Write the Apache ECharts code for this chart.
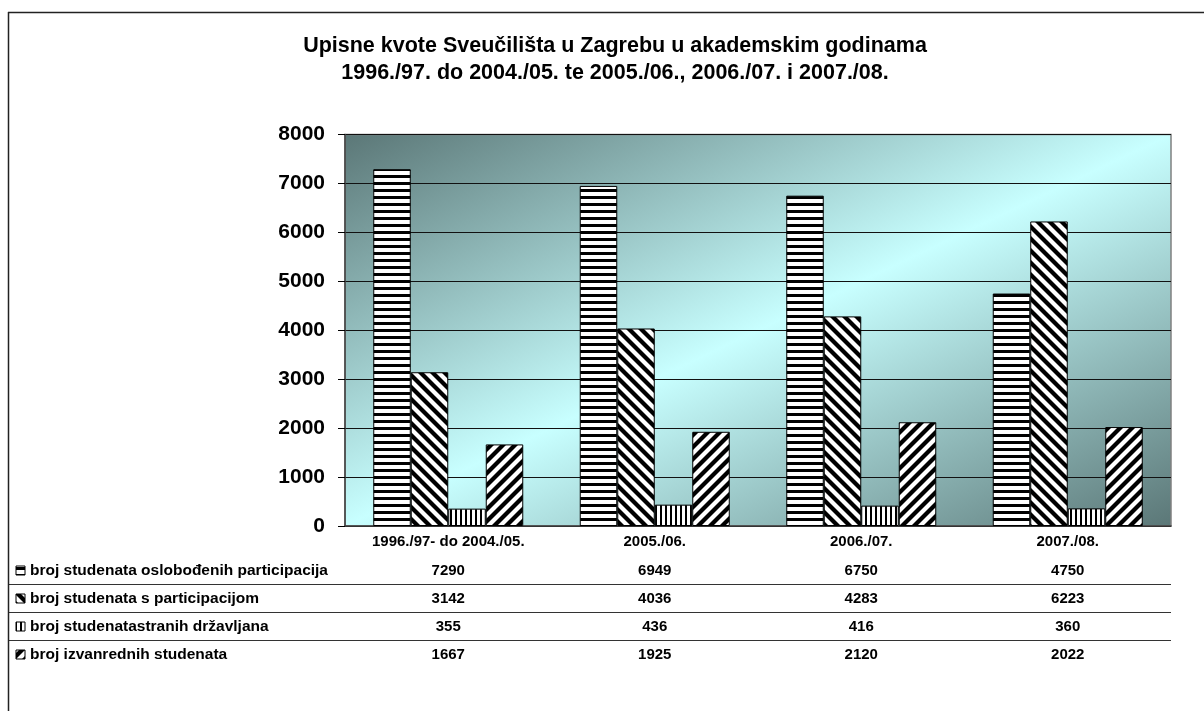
<!DOCTYPE html>
<html><head><meta charset="utf-8">
<script src="https://cdn.jsdelivr.net/npm/echarts@6/dist/echarts.min.js"></script>
<style>html,body{margin:0;padding:0;background:#fff}#c{width:1204px;height:711px}</style>
</head><body><div id="c"></div>
<script>
// ---- data ----
const categories = ['1996./97- do 2004./05.', '2005./06.', '2006./07.', '2007./08.'];
const seriesNames = [
  'broj studenata oslobođenih participacija',
  'broj studenata s participacijom',
  'broj studenatastranih državljana',
  'broj izvanrednih studenata'
];
const oslobodeni = [7290, 6949, 6750, 4750];
const participacija = [3142, 4036, 4283, 6223];
const strani = [355, 436, 416, 360];
const izvanredni = [1667, 1925, 2120, 2022];
const yMin = 0, yMax = 8000, yStep = 1000;
const titleLines = [
  'Upisne kvote Sveučilišta u Zagrebu u akademskim godinama',
  '1996./97. do 2004./05. te 2005./06., 2006./07. i 2007./08.'
];

// ---- patterns ----
function makePattern(kind) {
  const c = document.createElement('canvas');
  let w = 12, h = 12;
  if (kind === 'h') { w = 8; h = 7; }
  if (kind === 'v') { w = 5; h = 8; }
  c.width = w; c.height = h;
  const g = c.getContext('2d');
  g.fillStyle = '#fff'; g.fillRect(0, 0, w, h);
  g.fillStyle = '#000'; g.strokeStyle = '#000';
  if (kind === 'h') { g.fillRect(0, 0, w, 3); }
  else if (kind === 'v') { g.fillRect(0, 0, 2, h); }
  else {
    g.lineWidth = 4.2;
    for (let k = -1; k <= 1; k++) {
      g.beginPath();
      if (kind === 'b') { g.moveTo(-2, -2 + 12 * k); g.lineTo(14, 14 + 12 * k); }
      else { g.moveTo(-2, 14 + 12 * k); g.lineTo(14, -2 + 12 * k); }
      g.stroke();
    }
  }
  return c;
}
const kinds = ['h', 'b', 'v', 'f'];
const patterns = kinds.map(k => ({ image: makePattern(k), repeat: 'repeat' }));
const allValues = [oslobodeni, participacija, strani, izvanredni];

const FONT = "'Liberation Sans', Arial, Helvetica, sans-serif";
const chart = echarts.init(document.getElementById('c'), null, { renderer: 'canvas' });

// layout constants
const G = { left: 345, top: 134.5, right: 33, bottom: 185 };
const gx0 = G.left, gy0 = G.top, gw = 1204 - G.left - G.right, gh = 711 - G.top - G.bottom;
const cx = gx0 + gw / 2, cy = gy0 + gh / 2;
const f = gw * gh / (gw * gw + gh * gh);
const bg = new echarts.graphic.LinearGradient(
  cx - gh * f, cy - gw * f, cx + gh * f, cy + gw * f,
  [{ offset: 0, color: '#5b7777' }, { offset: 0.5, color: '#c8ffff' }, { offset: 1, color: '#5b7777' }],
  true
);

const rowOffsets = [29, 57, 85, 113];
const rowCenters = rowOffsets.map(o => 526 + 8 + 7.5 + o);
const labelStyle = { color: '#000', fontWeight: 'bold', fontSize: 15, fontFamily: FONT };

const xAxes = [{
  type: 'category', data: categories, gridIndex: 0, position: 'bottom',
  axisLine: { show: true, lineStyle: { color: '#404040', width: 1.5 } },
  axisTick: { show: false },
  axisLabel: Object.assign({ margin: 8, interval: 0 }, labelStyle),
  splitLine: { show: false }
}];
allValues.forEach((arr, i) => {
  xAxes.push({
    type: 'category', data: arr.map(String), gridIndex: 0, position: 'bottom',
    offset: rowOffsets[i],
    axisLine: { show: false }, axisTick: { show: false }, splitLine: { show: false },
    axisLabel: Object.assign({ margin: 8, interval: 0 }, labelStyle)
  });
});

const graphics = [
  { type: 'line', shape: { x1: 8.5, y1: 12, x2: 8.5, y2: 711 }, style: { stroke: '#222', lineWidth: 1.5 }, z: 10 },
  { type: 'line', shape: { x1: 8, y1: 12.5, x2: 1204, y2: 12.5 }, style: { stroke: '#222', lineWidth: 1.5 }, z: 10 },
  { type: 'text', x: 615, y: 46, style: { text: titleLines[0], font: 'bold 21.5px ' + FONT, fill: '#000', textAlign: 'center', textVerticalAlign: 'middle' } },
  { type: 'text', x: 615, y: 73, style: { text: titleLines[1], font: 'bold 21.5px ' + FONT, fill: '#000', textAlign: 'center', textVerticalAlign: 'middle' } }
];
for (let i = 0; i < 3; i++) {
  const y = (rowCenters[i] + rowCenters[i + 1]) / 2;
  graphics.push({ type: 'line', shape: { x1: 9, y1: y, x2: gx0 + gw, y2: y }, style: { stroke: '#333', lineWidth: 1.2 } });
}
seriesNames.forEach((n, i) => {
  graphics.push({ type: 'rect', shape: { x: 16, y: rowCenters[i] - 4.5, width: 9, height: 9 }, style: { fill: patterns[i], stroke: '#000', lineWidth: 1 } });
  graphics.push({ type: 'text', x: 30, y: rowCenters[i], style: { text: n, font: 'bold 15.5px ' + FONT, fill: '#000', textVerticalAlign: 'middle' } });
});

chart.setOption({
  animation: false,
  backgroundColor: '#fff',
  grid: {
    left: G.left, top: G.top, right: G.right, bottom: G.bottom,
    show: true, backgroundColor: bg, borderColor: '#808080', borderWidth: 1.5
  },
  xAxis: xAxes,
  yAxis: {
    type: 'value', min: yMin, max: yMax, interval: yStep,
    axisLine: { show: true, lineStyle: { color: '#404040', width: 1.5 } },
    axisTick: { show: true, length: 7, lineStyle: { color: '#000' } },
    axisLabel: { color: '#000', fontWeight: 'bold', fontSize: 21, fontFamily: FONT, margin: 20, formatter: v => String(v) },
    splitLine: { show: true, lineStyle: { color: '#111', width: 1 } }
  },
  series: allValues.map((arr, i) => ({
    name: seriesNames[i], type: 'bar', data: arr, xAxisIndex: 0,
    barWidth: 37.5, barGap: '0%',
    itemStyle: { color: patterns[i], borderColor: '#000', borderWidth: 1 }
  })),
  graphic: graphics
});
</script></body></html>
